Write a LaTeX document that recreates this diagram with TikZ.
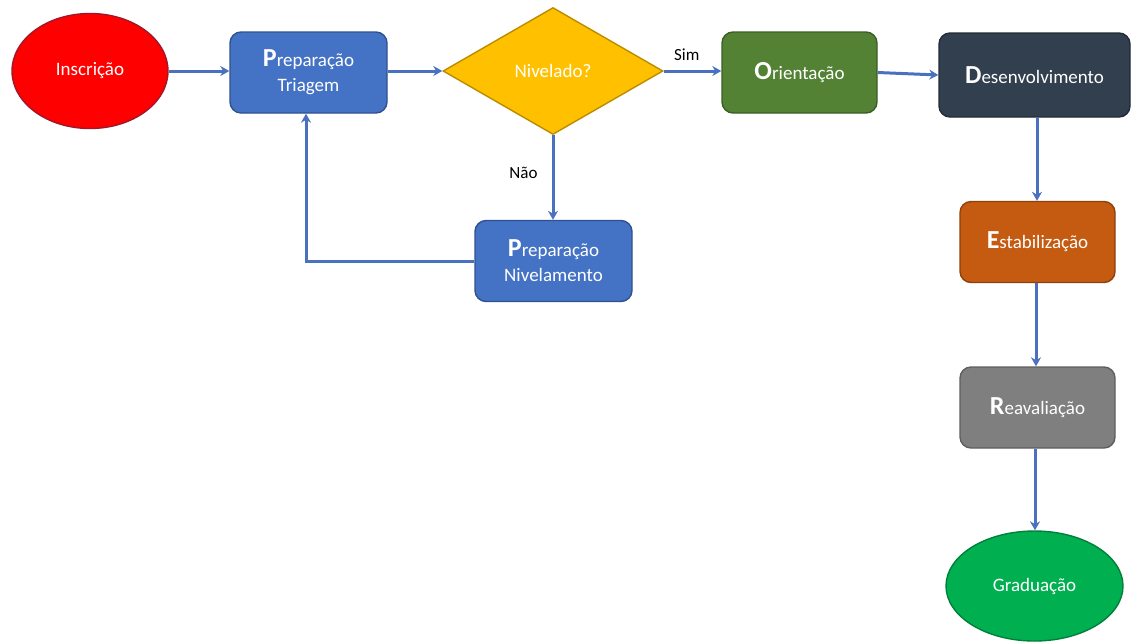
\documentclass[tikz,border=0pt]{standalone}
\usepackage{fontspec}
\setmainfont{Carlito}
\usetikzlibrary{shapes.geometric,arrows.meta}
\definecolor{cblue}{HTML}{4472C4}
\definecolor{cline}{HTML}{4A70C0}
\definecolor{cblueD}{HTML}{2F528F}
\definecolor{cred}{HTML}{FF0000}
\definecolor{credD}{HTML}{A01828}
\definecolor{cgold}{HTML}{FFC000}
\definecolor{cgoldD}{HTML}{BC8C00}
\definecolor{cgreen}{HTML}{548235}
\definecolor{cgreenD}{HTML}{3B5E25}
\definecolor{cslate}{HTML}{323F4F}
\definecolor{cslateD}{HTML}{222B36}
\definecolor{corange}{HTML}{C55A11}
\definecolor{corangeD}{HTML}{8F410C}
\definecolor{cgray}{HTML}{7F7F7F}
\definecolor{cgrayD}{HTML}{5E5E5E}
\definecolor{cgrad}{HTML}{00B050}
\definecolor{cgradD}{HTML}{00803A}
\newcommand{\Initial}[1]{{\fontsize{26}{26}\selectfont\bfseries #1}}
\tikzset{
  x=1pt, y=-1pt,
  txt/.style={text=white, font=\fontsize{19}{25}\selectfont, align=center, inner sep=0pt},
  box/.style={txt, rounded corners=11pt, line width=1.4pt, minimum width=#1, minimum height=81pt},
  oval/.style={txt, ellipse, line width=1.4pt},
  arr/.style={draw=cline, line width=3pt, -{Stealth[length=9pt,width=10pt]}},
  lbl/.style={text=black, font=\fontsize{17}{17}\selectfont, inner sep=0pt}
}
\begin{document}
\begin{tikzpicture}
\useasboundingbox (0,0) rectangle (1135,641);
\node[oval, fill=cred, draw=credD, minimum width=156pt, minimum height=115pt] (ins) at (90,71) {Inscrição};
\node[box=157pt, fill=cblue, draw=cblueD] (prep) at (308.5,72.5) {\Initial{P}reparação\\Triagem};
\node[txt, diamond, fill=cgold, draw=cgoldD, line width=1.4pt, minimum width=220pt, minimum height=127pt, aspect=1.73] (niv) at (553,71) {Nivelado?};
\node[box=155pt, fill=cgreen, draw=cgreenD] (ori) at (799.5,72.5) {\Initial{O}rientação};
\node[box=191pt, minimum height=84pt, fill=cslate, draw=cslateD] (des) at (1034.5,75) {\Initial{D}esenvolvimento};
\node[box=155pt, fill=corange, draw=corangeD] (est) at (1037.5,242) {\Initial{E}stabilização};
\node[box=155pt, fill=cgray, draw=cgrayD] (rea) at (1037.5,407.5) {\Initial{R}eavaliação};
\node[oval, fill=cgrad, draw=cgradD, minimum width=177pt, minimum height=110pt] (gra) at (1034.5,586) {Graduação};
\node[box=157pt, fill=cblue, draw=cblueD] (pniv) at (553.5,261) {\Initial{P}reparação\\Nivelamento};
\coordinate (fb) at (306,261);
\draw[arr] (ins.east) -- (ins.east -| prep.west);
\draw[arr] (prep.east |- niv.west) -- (niv.west);
\draw[arr] (niv.east) -- node[lbl, above=9pt, pos=0.4] (sim) {Sim} (niv.east -| ori.west);
\draw[arr] (ori.east) -- (des.west);
\draw[arr] (des.south -| 1037,0) -- (est.north -| 1037,0);
\draw[arr] (est.south -| 1036,0) -- (rea.north -| 1036,0);
\draw[arr] (rea.south -| 1035,0) -- (gra.north -| 1035,0);
\draw[arr] (niv.south) -- node[lbl, left=14pt, pos=0.45] (nao) {Não} (niv.south |- pniv.north);
\draw[arr] (pniv.west) -- (fb) -- (prep.south -| fb);
\end{tikzpicture}
\end{document}
